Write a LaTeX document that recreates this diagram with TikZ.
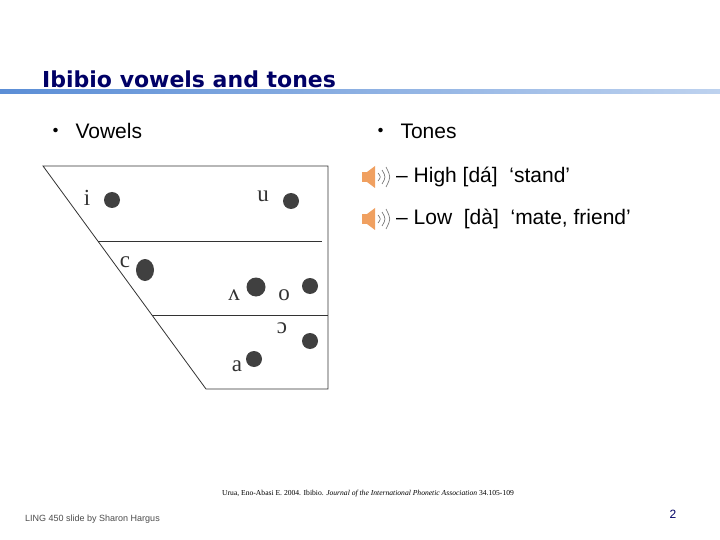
\documentclass[tikz,border=0pt]{standalone}
\usepackage{fontspec}
\usetikzlibrary{shapes.geometric}
\setmainfont{DejaVu Sans}
\newfontfamily\ipa{Liberation Serif}
\newfontfamily\lib{Liberation Sans}
\newfontfamily\cjk{Noto Sans CJK JP}
\definecolor{navy}{HTML}{000066}
\definecolor{rule}{HTML}{5B8ED6}
\definecolor{spk}{HTML}{F0A060}
\begin{document}
\begin{tikzpicture}[x=1pt,y=-1pt,
 vdot/.style={circle,fill=black!75,inner sep=0pt,minimum size=16pt},
 vlab/.style={font=\ipa\fontsize{23}{23}\selectfont,text=black!80,inner sep=0pt},
 body/.style={font=\lib\fontsize{21}{24}\selectfont,anchor=west,inner sep=0pt}]
\useasboundingbox (0,0) rectangle (720,540);
\fill[white] (0,0) rectangle (720,540);
\node[anchor=west,inner sep=0pt,text=navy,font=\bfseries\fontsize{22}{24}\selectfont] (title) at (42,79) {Ibibio vowels and tones};
\shade[left color=rule,right color=rule!40] (0,90) rectangle (720,94);
\node[body] (b1) at (45,131) {{\cjk ・}\, Vowels};
\node[body] (b2) at (370,131) {{\cjk ・}\, Tones};
% chart
\draw[black!80,line width=0.8pt] (43,166) -- (328,166) -- (328,389) -- (206,389) -- cycle;
\draw[black!80,line width=0.8pt] (98,241) -- (322,241);
\draw[black!80,line width=0.8pt] (152,315) -- (328,315);
\node[vdot] (di) at (112,200) {};
\node[vlab] (li) at (87,198) {i};
\node[vdot] (du) at (291,201) {};
\node[vlab] (lu) at (263,196) {u};
\node[ellipse,fill=black!75,inner sep=0pt,minimum width=18pt,minimum height=22pt] (de) at (145,270) {};
\node[vlab] (le) at (125,262) {c};
\node[vdot,minimum size=19pt] (dv) at (256,287) {};
\node[vlab] (lv) at (234,295) {ʌ};
\node[vdot] (do) at (310,286) {};
\node[vlab] (lo) at (284,295) {o};
\node[vlab] (lc) at (282,328) {ɔ};
\node[vdot] (dc) at (310,341) {};
\node[vdot] (da) at (254,359) {};
\node[vlab] (la) at (237,366) {a};
% tones
\foreach \y/\n in {177/s1,219/s2}{
 \fill[spk] (362,\y-5) rectangle (367,\y+5);
 \fill[spk] (367,\y-5) -- (375,\y-11) -- (375,\y+11) -- (367,\y+5) -- cycle;
 \draw[black!60,line width=0.6pt] (378,\y-4) .. controls (381,\y) .. (378,\y+4);
 \draw[black!60,line width=0.6pt] (382,\y-7) .. controls (386,\y) .. (382,\y+7);
 \draw[black!60,line width=0.6pt] (386,\y-10) .. controls (391,\y) .. (386,\y+10);
}
\node[body] (t1) at (396,177) {– High [dá]\ \ ‘stand’};
\node[body] (t2) at (396,219) {– Low\ \ [dà]\ \ ‘mate, friend’};
\node[anchor=west,inner sep=0pt,font=\ipa\fontsize{7.6}{8}\selectfont] (cite) at (222,494) {Urua, Eno-Abasi E. 2004. Ibibio. \emph{Journal of the International Phonetic Association} 34.105-109};
\node[anchor=west,inner sep=0pt,font=\lib\fontsize{9}{10}\selectfont,text=black!70] (foot) at (25,519) {LING 450 slide by Sharon Hargus};
\node[inner sep=0pt,font=\lib\fontsize{12}{12}\selectfont,text=navy] (pg) at (673,514) {2};
\end{tikzpicture}
\end{document}
